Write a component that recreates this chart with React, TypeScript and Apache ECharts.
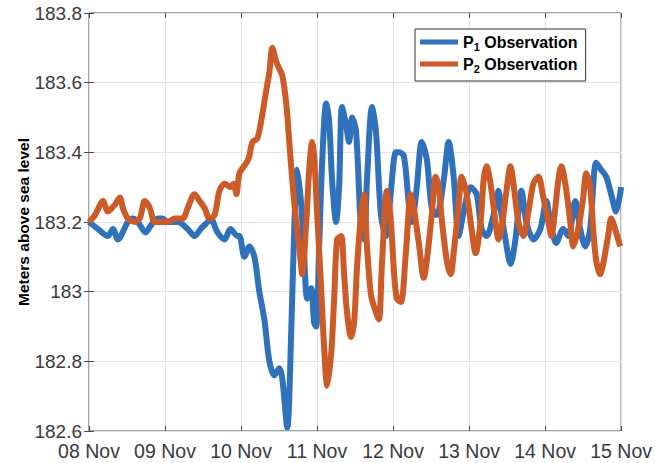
import React, { useEffect, useRef } from "react";
import * as echarts from "echarts";

const dayLabels = ["08 Nov", "09 Nov", "10 Nov", "11 Nov", "12 Nov", "13 Nov", "14 Nov", "15 Nov"];
const yTicks = [182.6, 182.8, 183, 183.2, 183.4, 183.6, 183.8];

// time in days since 08 Nov 00:00
const p1Days = [0, 0.118, 0.249, 0.315, 0.38, 0.511, 0.577, 0.642, 0.747, 0.813, 0.904, 0.97, 1.036, 1.167, 1.298, 1.389, 1.468, 1.56, 1.599, 1.691, 1.783, 1.861, 1.953, 1.979, 2.045, 2.11, 2.176, 2.241, 2.307, 2.373, 2.438, 2.504, 2.543, 2.608, 2.661, 2.7, 2.74, 2.792, 2.831, 2.871, 2.923, 2.962, 2.989, 3.028, 3.067, 3.12, 3.159, 3.198, 3.251, 3.29, 3.329, 3.382, 3.421, 3.461, 3.513, 3.578, 3.618, 3.657, 3.723, 3.775, 3.841, 3.906, 3.972, 4.037, 4.077, 4.142, 4.208, 4.247, 4.312, 4.378, 4.444, 4.509, 4.575, 4.666, 4.732, 4.797, 4.863, 4.929, 5.02, 5.099, 5.164, 5.23, 5.322, 5.387, 5.427, 5.479, 5.545, 5.61, 5.689, 5.754, 5.846, 5.938, 6.016, 6.069, 6.147, 6.239, 6.305, 6.397, 6.462, 6.528, 6.593, 6.672, 6.737, 6.803, 6.869, 6.934, 7.0];
const p1Values = [183.2, 183.18, 183.16, 183.18, 183.15, 183.2, 183.21, 183.2, 183.17, 183.19, 183.21, 183.21, 183.2, 183.2, 183.18, 183.16, 183.18, 183.2, 183.21, 183.17, 183.15, 183.18, 183.16, 183.16, 183.1, 183.13, 183.1, 183.0, 182.92, 182.8, 182.76, 182.78, 182.75, 182.61, 182.89, 183.18, 183.35, 183.25, 183.1, 182.98, 183.01, 182.91, 182.9, 183.13, 183.37, 183.54, 183.49, 183.32, 183.2, 183.3, 183.53, 183.48, 183.43, 183.5, 183.46, 183.18, 183.15, 183.32, 183.53, 183.46, 183.22, 183.16, 183.29, 183.4, 183.4, 183.39, 183.25, 183.2, 183.3, 183.43, 183.38, 183.24, 183.22, 183.32, 183.43, 183.33, 183.16, 183.23, 183.3, 183.28, 183.18, 183.16, 183.22, 183.29, 183.22, 183.15, 183.08, 183.15, 183.29, 183.2, 183.15, 183.18, 183.26, 183.2, 183.14, 183.18, 183.16, 183.26, 183.18, 183.13, 183.18, 183.37, 183.35, 183.33, 183.28, 183.23, 183.3];

const p2Days = [0, 0.079, 0.184, 0.249, 0.341, 0.406, 0.446, 0.511, 0.603, 0.668, 0.734, 0.8, 0.865, 0.944, 1.036, 1.127, 1.232, 1.298, 1.389, 1.455, 1.52, 1.586, 1.652, 1.717, 1.783, 1.861, 1.9, 1.94, 1.979, 2.071, 2.11, 2.15, 2.215, 2.281, 2.333, 2.373, 2.412, 2.464, 2.504, 2.543, 2.595, 2.635, 2.674, 2.726, 2.766, 2.805, 2.858, 2.897, 2.936, 2.962, 3.002, 3.054, 3.093, 3.133, 3.185, 3.225, 3.264, 3.316, 3.356, 3.395, 3.447, 3.487, 3.526, 3.578, 3.618, 3.657, 3.71, 3.775, 3.814, 3.854, 3.919, 3.972, 4.011, 4.05, 4.103, 4.168, 4.234, 4.273, 4.339, 4.404, 4.444, 4.509, 4.561, 4.601, 4.64, 4.706, 4.758, 4.797, 4.863, 4.902, 4.968, 5.033, 5.086, 5.151, 5.191, 5.23, 5.282, 5.348, 5.387, 5.427, 5.492, 5.545, 5.584, 5.649, 5.715, 5.781, 5.846, 5.912, 5.977, 6.043, 6.082, 6.134, 6.174, 6.213, 6.266, 6.331, 6.371, 6.436, 6.501, 6.541, 6.593, 6.632, 6.672, 6.724, 6.764, 6.829, 6.869, 6.921, 6.987];
const p2Values = [183.2, 183.22, 183.26, 183.23, 183.25, 183.27, 183.24, 183.21, 183.2, 183.21, 183.26, 183.24, 183.2, 183.2, 183.2, 183.21, 183.21, 183.24, 183.28, 183.26, 183.24, 183.21, 183.22, 183.29, 183.31, 183.3, 183.31, 183.28, 183.34, 183.37, 183.39, 183.43, 183.44, 183.51, 183.58, 183.63, 183.7, 183.66, 183.64, 183.62, 183.54, 183.43, 183.32, 183.2, 183.13, 183.05, 183.2, 183.35, 183.43, 183.39, 183.22, 183.01, 182.84, 182.73, 182.82, 182.98, 183.15, 183.16, 183.05, 182.94, 182.87, 182.91, 183.07, 183.22, 183.28, 183.13, 182.99, 182.94, 182.92, 183.08, 183.29, 183.2, 183.06, 182.98, 182.97, 183.11, 183.28, 183.24, 183.14, 183.04, 183.09, 183.22, 183.33, 183.3, 183.21, 183.09, 183.05, 183.11, 183.25, 183.33, 183.28, 183.18, 183.11, 183.2, 183.32, 183.36, 183.31, 183.2, 183.15, 183.18, 183.29, 183.36, 183.31, 183.2, 183.16, 183.23, 183.31, 183.33, 183.27, 183.2, 183.16, 183.24, 183.32, 183.36, 183.31, 183.2, 183.13, 183.18, 183.27, 183.34, 183.3, 183.18, 183.09, 183.05, 183.08, 183.16, 183.21, 183.18, 183.13];

const seriesNames = ["P1 Observation", "P2 Observation"];
const seriesColors = ["#2f71bb", "#cd5b27"];

export default function App() {
  const ref = useRef<HTMLDivElement>(null);
  useEffect(() => {
    document.body.style.margin = "0";
    if (!ref.current) return;
    const chart = echarts.init(ref.current, null, { renderer: "svg" });
    const labelFont = "Liberation Sans, Arial, sans-serif";
    const gridColor = "#e3e3e3";
    const axisColor = "#4a4a4a";
    chart.setOption({
      animation: false,
      backgroundColor: "#ffffff",
      grid: { left: 89, right: 32, top: 13, bottom: 32, show: true, borderColor: axisColor, borderWidth: 1, backgroundColor: "transparent" },
      legend: {
        orient: "vertical",
        left: 415,
        top: 29,
        data: seriesNames,
        icon: "rect",
        itemWidth: 38,
        itemHeight: 5,
        itemGap: 4,
        padding: [5, 8, 7, 5],
        backgroundColor: "#ffffff",
        borderColor: "#333333",
        borderWidth: 1,
        borderRadius: 0,
        formatter: (name: string) => `{b|P}{s|${name.charAt(1)}}{b| Observation}`,
        textStyle: {
          rich: {
            b: { fontSize: 16, fontWeight: "bold", fontFamily: labelFont, color: "#000000", lineHeight: 20 },
            s: { fontSize: 11, fontWeight: "bold", fontFamily: labelFont, color: "#000000", lineHeight: 8, verticalAlign: "bottom" },
          },
        },
      },
      xAxis: [
        {
          type: "value",
          min: 0,
          max: 7,
          interval: 1,
          axisLine: { show: false },
          axisTick: { show: true, inside: true, length: 5, lineStyle: { color: axisColor } },
          splitLine: { show: true, lineStyle: { color: gridColor, width: 1 } },
          axisLabel: {
            formatter: (v: number) => dayLabels[Math.round(v)] ?? "",
            fontSize: 19.5,
            fontFamily: labelFont,
            color: "#3a3a3a",
            margin: 10,
          },
        },
        {
          type: "value",
          position: "top",
          min: 0,
          max: 7,
          interval: 1,
          axisLine: { show: false },
          axisTick: { show: true, inside: true, length: 5, lineStyle: { color: axisColor } },
          axisLabel: { show: false },
          splitLine: { show: false },
        },
      ],
      yAxis: [
        {
          type: "value",
          min: yTicks[0],
          max: yTicks[yTicks.length - 1],
          interval: 0.2,
          axisLine: { show: false },
          axisTick: { show: true, inside: true, length: 5, lineStyle: { color: axisColor } },
          splitLine: { show: true, lineStyle: { color: gridColor, width: 1 } },
          axisLabel: {
            formatter: (v: number) => {
              const t = yTicks.find((y) => Math.abs(y - v) < 1e-6);
              return t === undefined ? "" : String(t);
            },
            fontSize: 19,
            fontFamily: labelFont,
            color: "#3a3a3a",
            margin: 7,
          },
          name: "Meters above sea level",
          nameLocation: "middle",
          nameGap: 58,
          nameMoveOverlap: false,
          nameTextStyle: { fontSize: 15.5, fontWeight: "bold", fontFamily: labelFont, color: "#000000" },
        },
        {
          type: "value",
          position: "right",
          min: yTicks[0],
          max: yTicks[yTicks.length - 1],
          interval: 0.2,
          axisLine: { show: false },
          axisTick: { show: true, inside: true, length: 5, lineStyle: { color: axisColor } },
          axisLabel: { show: false },
          splitLine: { show: false },
        },
      ],
      series: [
        {
          name: seriesNames[0],
          type: "line",
          data: p1Days.map((d, i) => [d, p1Values[i]]),
          showSymbol: false,
          smooth: 0.3,
          lineStyle: { width: 6, color: seriesColors[0] },
          itemStyle: { color: seriesColors[0] },
          z: 3,
        },
        {
          name: seriesNames[1],
          type: "line",
          data: p2Days.map((d, i) => [d, p2Values[i]]),
          showSymbol: false,
          smooth: 0.3,
          lineStyle: { width: 6, color: seriesColors[1] },
          itemStyle: { color: seriesColors[1] },
          z: 4,
        },
      ],
    });
    return () => chart.dispose();
  }, []);
  return <div ref={ref} style={{ width: 655, height: 463 }} />;
}
